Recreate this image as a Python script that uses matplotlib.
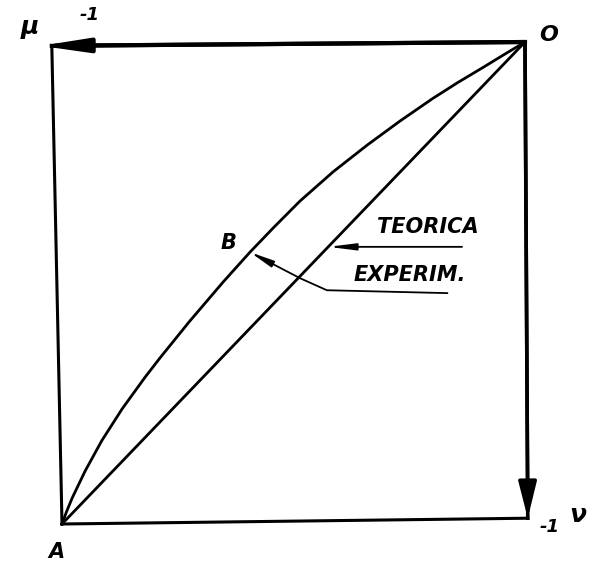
# Diagramma mu-nu: curva sperimentale contro retta teorica nel quadrato unitario

import numpy
import matplotlib
matplotlib.use("Agg")
import matplotlib.pyplot as plt

# curva sperimentale (mu, nu) da A(-1,-1) a O(0,0)
mu_exp = [-1.0, -0.99, -0.978, -0.95, -0.914, -0.87, -0.821, -0.788, -0.724,
          -0.652, -0.594, -0.544, -0.486, -0.414, -0.341, -0.27, -0.199,
          -0.145, -0.091, -0.045, 0.0]
nu_exp = [-1.0, -0.974, -0.946, -0.89, -0.827, -0.761, -0.696, -0.655, -0.579,
          -0.498, -0.436, -0.386, -0.33, -0.269, -0.214, -0.164, -0.117,
          -0.084, -0.053, -0.026, 0.0]

# retta teorica
mu_teo = [-1.0, 0.0]
nu_teo = [-1.0, 0.0]

fig = plt.figure(figsize=(5.92, 5.65), dpi=100)
ax = fig.add_axes([62 / 592, 41 / 565, 463 / 592, 482 / 565])
ax.set_xlim(-1.0, 0.0)
ax.set_ylim(-1.0, 0.0)
ax.axis("off")

lw = 2.2
# lati del quadrato (tracciati a mano, leggermente storti)
ax.plot([-1.022, -1.0], [-0.008, -1.0], color="k", lw=lw, clip_on=False)
ax.plot([-1.0, 0.006], [-1.0, -0.988], color="k", lw=lw, clip_on=False)
ax.plot([0.0, -1.022], [0.0, -0.008], color="k", lw=3.0, clip_on=False)
ax.plot([0.0, 0.006], [0.0, -0.988], color="k", lw=2.6, clip_on=False)

# punte degli assi: mu verso sinistra, nu verso il basso
ax.annotate("", xy=(-1.046, -0.008), xytext=(0.0, 0.0),
            arrowprops=dict(arrowstyle="-|>,head_length=2.8,head_width=0.42",
                            lw=3.0, color="k", shrinkA=0, shrinkB=0),
            annotation_clip=False)
ax.annotate("", xy=(0.006, -0.988), xytext=(0.0, 0.0),
            arrowprops=dict(arrowstyle="-|>,head_length=2.2,head_width=0.55",
                            lw=2.6, color="k", shrinkA=0, shrinkB=0),
            annotation_clip=False)

# curve
ax.plot(mu_teo, nu_teo, color="k", lw=2.0, clip_on=False)
ax.plot(mu_exp, nu_exp, color="k", lw=2.0, clip_on=False)

# richiami delle didascalie
nu_t = -0.425
ax.annotate("", xy=(nu_t, nu_t), xytext=(-0.136, nu_t),
            arrowprops=dict(arrowstyle="-|>,head_length=1.6,head_width=0.2",
                            lw=1.3, color="k", shrinkA=0, shrinkB=0))
b_mu = numpy.interp(-0.436, nu_exp, mu_exp)
ax.plot([-0.486, -0.428, -0.168], [-0.49, -0.515, -0.521], color="k", lw=1.3)
ax.annotate("", xy=(b_mu, -0.436), xytext=(-0.486, -0.49),
            arrowprops=dict(arrowstyle="-|>,head_length=1.4,head_width=0.2",
                            lw=1.3, color="k", shrinkA=0, shrinkB=0))

tk = dict(color="k", style="italic", weight="bold", ha="center", va="center",
          clip_on=False)
ax.text(-0.21, -0.384, "TEORICA", fontsize=15, **tk)
ax.text(-0.248, -0.483, "EXPERIM.", fontsize=15, **tk)
ax.text(-0.641, -0.417, "B", fontsize=15, **tk)
ax.text(-1.013, -1.058, "A", fontsize=15, **tk)
ax.text(0.05, 0.014, "O", fontsize=16, **tk)
ax.text(-1.069, 0.031, "μ", fontsize=18, **tk)
ax.text(-0.94, 0.056, "-1", fontsize=13, **tk)
ax.text(0.054, -1.006, "-1", fontsize=13, **tk)
ax.text(0.114, -0.981, "ν", fontsize=18, **tk)

fig.savefig("out.png", dpi=100, facecolor="white")
